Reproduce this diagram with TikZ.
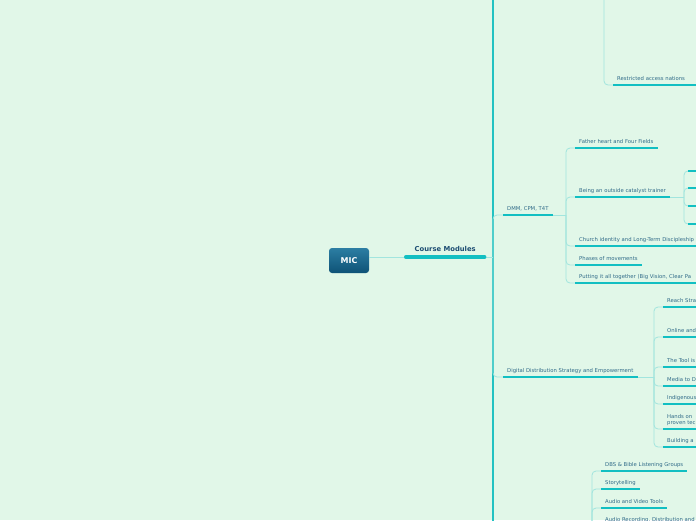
\documentclass[tikz,border=0pt]{standalone}
\usepackage{fontspec}
\setmainfont{DejaVu Sans}
\usetikzlibrary{calc}
\definecolor{mapbg}{HTML}{E1F7E8}
\definecolor{topictext}{HTML}{2F6A88}
\definecolor{maintext}{HTML}{1D4E73}
\definecolor{barcol}{HTML}{12BFC2}
\definecolor{linkcol}{HTML}{A2E5DE}
\definecolor{trunkcol}{HTML}{22C2C2}
\definecolor{roottop}{HTML}{2C7EA3}
\definecolor{rootbot}{HTML}{0E5276}

\begin{document}
\begin{tikzpicture}[x=1pt,y=-1pt,
  root/.style={rounded corners=3pt,minimum width=40pt,minimum height=25pt,
    top color=roottop,bottom color=rootbot,draw=none,text=white,
    font=\fontsize{8}{9}\selectfont\bfseries},
  main/.style={anchor=south west,minimum width=82pt,inner xsep=0pt,inner ysep=3.5pt,
    text depth=1.5pt,text=maintext,font=\fontsize{6.8}{8}\selectfont\bfseries},
  topic/.style={anchor=south west,inner xsep=4pt,inner ysep=2.5pt,text depth=1.4pt,
    text=topictext,font=\fontsize{5.3}{6}\selectfont,align=left},
  cut/.style={text width=#1,align=left},
  cut/.default=52pt,
  mainbar/.style={line width=3.5pt,barcol,line cap=round,shorten <=1.75pt,shorten >=1.75pt},
  bar/.style={line width=2pt,barcol},
  link/.style={line width=0.8pt,linkcol,rounded corners=4pt},
  trunkline/.style={line width=1.6pt,trunkcol,rounded corners=4pt}]
  \fill[mapbg] (0,0) rectangle (696,520);
  \useasboundingbox (0,0) rectangle (696,520);
  \clip (0,0) rectangle (696,520);

  \node[root] (mic) at (349,260.5) {MIC};
  \node[main] (course) at (404,257) {Course Modules};
  \coordinate (trunk) at (493,257);
  \coordinate (trunktop) at (493,-20);
  \coordinate (trunkbot) at (493,540);
  \coordinate (upj) at (604,-30);
  \coordinate (dmmj) at (566,215);
  \coordinate (catj) at (684,197);
  \coordinate (digj) at (654,377);
  \coordinate (lowj) at (592,560);

  \node[topic,cut=92pt] (restricted) at (613,85) {Restricted access nations};

  \node[topic] (dmm) at (503,215) {DMM, CPM, T4T};
  \node[topic] (father) at (575,148) {Father heart and Four Fields};
  \node[topic] (catalyst) at (575,197) {Being an outside catalyst trainer};
  \node[topic,cut=150pt] (church) at (575,246) {Church identity and Long-Term Discipleship};
  \node[topic] (phases) at (575,265) {Phases of movements};
  \node[topic,cut=150pt] (putting) at (575,283) {Putting it all together (Big Vision, Clear Pa};
  \foreach \n/\y in {cat1/171,cat2/188,cat3/206,cat4/224}
    \node[topic,minimum width=30pt] (\n) at (688,\y) {};

  \node[topic] (digital) at (503,377) {Digital Distribution Strategy and Empowerment};
  \node[topic,cut] (reach) at (663,307) {Reach Stra};
  \node[topic,cut] (online) at (663,337) {Online and};
  \node[topic,cut] (tool) at (663,367) {The Tool is};
  \node[topic,cut] (media) at (663,386) {Media to D};
  \node[topic,cut] (indigenous) at (663,404) {Indigenous};
  \node[topic,cut,text depth=7.4pt] (hands) at (663,429) {Hands on\\proven tec};
  \node[topic,cut] (building) at (663,447) {Building a};

  \node[topic] (dbs) at (601,471) {DBS \& Bible Listening Groups};
  \node[topic] (story) at (601,489) {Storytelling};
  \node[topic] (avtools) at (601,508) {Audio and Video Tools};
  \node[topic,cut=100pt] (recording) at (601,526) {Audio Recording, Distribution and};

  \draw[trunkline] (trunktop) -- (trunkbot);
  \draw[link] (course.south west -| mic.east) -- (course.south west);
  \draw[link] (course.south east) -- (trunk);
  \draw[link] (trunk) |- (dmm.south west);
  \draw[link] (trunk) |- (digital.south west);
  \draw[link] (upj) |- (restricted.south west);

  \draw[link] (dmm.south east) -- (dmmj);
  \foreach \c in {father,catalyst,church,phases,putting}
    \draw[link] (dmmj) |- (\c.south west);
  \draw[link] (catalyst.south east) -- (catj);
  \foreach \c in {cat1,cat2,cat3,cat4}
    \draw[link] (catj) |- (\c.south west);

  \draw[link] (digital.south east) -- (digj);
  \foreach \c in {reach,online,tool,media,indigenous,hands,building}
    \draw[link] (digj) |- (\c.south west);

  \foreach \c in {dbs,story,avtools,recording}
    \draw[link] (lowj) |- (\c.south west);

  \draw[mainbar] (course.south west) -- (course.south east);
  \foreach \c in {restricted,dmm,father,catalyst,church,phases,putting,cat1,cat2,cat3,cat4,
    digital,reach,online,tool,media,indigenous,hands,building,dbs,story,avtools,recording}
    \draw[bar] (\c.south west) -- (\c.south east);
\end{tikzpicture}
\end{document}
